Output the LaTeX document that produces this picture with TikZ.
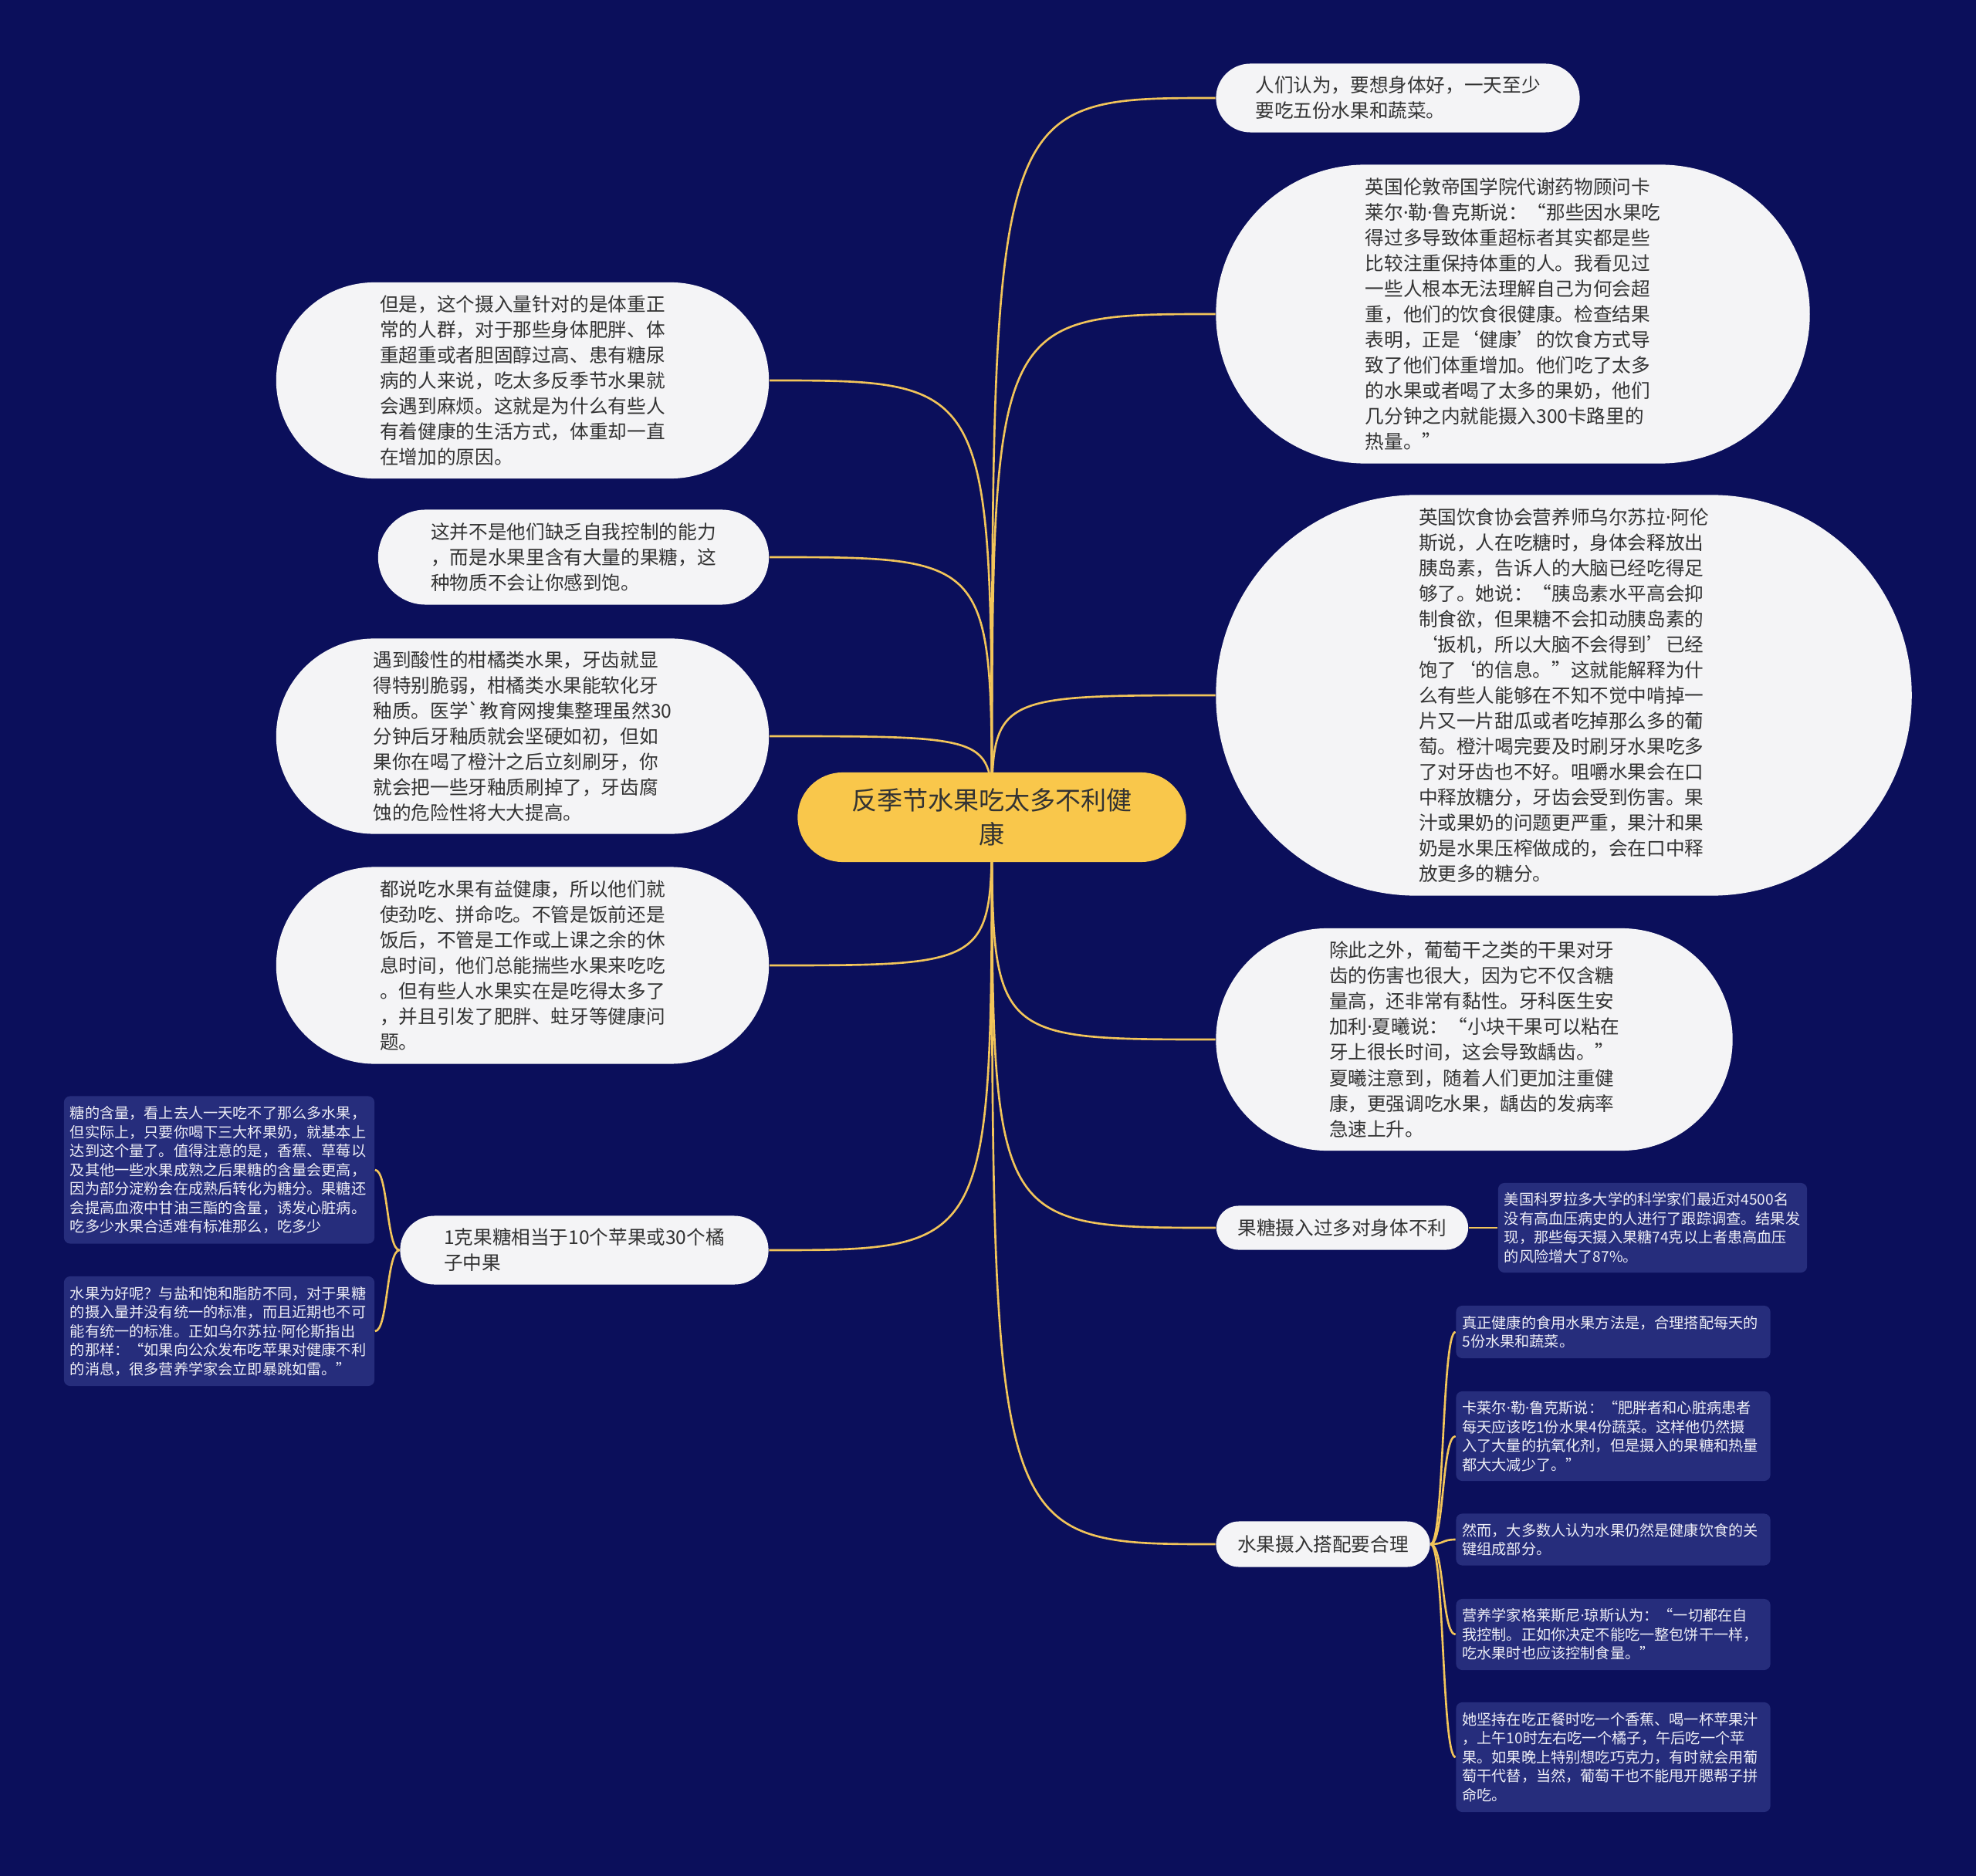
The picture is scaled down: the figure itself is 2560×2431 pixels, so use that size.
\documentclass[tikz,border=0pt]{standalone}
\usepackage{fontspec}
\setmainfont{Noto Sans CJK SC}
\newfontfamily\dotfont{Noto Sans}
\newcommand\md{{\dotfont ·}}
\usetikzlibrary{shapes.misc, backgrounds}
\definecolor{bgnavy}{HTML}{0B0F5B}
\definecolor{bubblewhite}{HTML}{F4F4F6}
\definecolor{rootgold}{HTML}{F9C74B}
\definecolor{linkgold}{HTML}{F2C55A}
\definecolor{leafblue}{HTML}{262D7C}
\definecolor{leaftext}{HTML}{EEEEF6}
\definecolor{inktext}{HTML}{333333}
\tikzset{
    bubble/.style={
        rounded rectangle, fill=bubblewhite, text=inktext,
        align=left, inner sep=0pt,
        font=\fontsize{7pt}{9.4pt}\selectfont
    },
    rootbox/.style={
        rounded rectangle, fill=rootgold, text=inktext,
        align=center, inner sep=0pt,
        font=\fontsize{9.4pt}{12.5pt}\selectfont
    },
    leaf/.style={
        rectangle, rounded corners=0.08cm, fill=leafblue, text=leaftext,
        align=left, inner xsep=0.08cm, inner ysep=0.1cm,
        font=\fontsize{5.45pt}{6.97pt}\selectfont
    },
    link/.style={draw=linkgold, line width=0.75pt}
}

\begin{document}
\begin{tikzpicture}[x=0.01cm, y=-0.01cm]
\useasboundingbox (0,0) rectangle (2560,2431);

% ── Root ─────────────────────────────────────────────────────────────────────
\node[rootbox, minimum width=5.03cm, minimum height=1.16cm] (root) at (1285,1059)
    {反季节水果吃太多不利健\\康};

% ── Right side ───────────────────────────────────────────────────────────────
\node[bubble, minimum width=4.71cm, minimum height=0.89cm] (fiveday) at (1811,127)
    {人们认为，要想身体好，一天至少\\要吃五份水果和蔬菜。};
\node[bubble, minimum width=7.69cm, minimum height=3.87cm] (calorie) at (1960,407)
    {英国伦敦帝国学院代谢药物顾问卡\\莱尔\md 勒\md 鲁克斯说：“那些因水果吃\\得过多导致体重超标者其实都是些\\比较注重保持体重的人。我看见过\\一些人根本无法理解自己为何会超\\重，他们的饮食很健康。检查结果\\表明，正是‘健康’的饮食方式导\\致了他们体重增加。他们吃了太多\\的水果或者喝了太多的果奶，他们\\几分钟之内就能摄入300卡路里的\\热量。”};
\node[bubble, minimum width=9.01cm, minimum height=5.19cm] (insulin) at (2026,901)
    {英国饮食协会营养师乌尔苏拉\md 阿伦\\斯说，人在吃糖时，身体会释放出\\胰岛素，告诉人的大脑已经吃得足\\够了。她说：“胰岛素水平高会抑\\制食欲，但果糖不会扣动胰岛素的\\‘扳机，所以大脑不会得到’已经\\饱了‘的信息。”这就能解释为什\\么有些人能够在不知不觉中啃掉一\\片又一片甜瓜或者吃掉那么多的葡\\萄。橙汁喝完要及时刷牙水果吃多\\了对牙齿也不好。咀嚼水果会在口\\中释放糖分，牙齿会受到伤害。果\\汁或果奶的问题更严重，果汁和果\\奶是水果压榨做成的，会在口中释\\放更多的糖分。};
\node[bubble, minimum width=6.69cm, minimum height=2.88cm] (raisin) at (1910,1347)
    {除此之外，葡萄干之类的干果对牙\\齿的伤害也很大，因为它不仅含糖\\量高，还非常有黏性。牙科医生安\\加利\md 夏曦说：“小块干果可以粘在\\牙上很长时间，这会导致龋齿。”\\夏曦注意到，随着人们更加注重健\\康，更强调吃水果，龋齿的发病率\\急速上升。};
\node[bubble, minimum width=3.26cm, minimum height=0.57cm] (harm) at (1739,1591)
    {果糖摄入过多对身体不利};
\node[leaf, text width=3.84cm, minimum height=1.16cm] (study) at (2141,1591)
    {美国科罗拉多大学的科学家们最近对4500名\\没有高血压病史的人进行了跟踪调查。结果发\\现，那些每天摄入果糖74克以上者患高血压\\的风险增大了87\%。};
\node[bubble, minimum width=2.77cm, minimum height=0.59cm] (balance) at (1714,2001)
    {水果摄入搭配要合理};
\node[leaf, text width=3.91cm, minimum height=0.68cm] (daily) at (2090,1726)
    {真正健康的食用水果方法是，合理搭配每天的\\5份水果和蔬菜。};
\node[leaf, text width=3.91cm, minimum height=1.16cm] (lukecut) at (2090,1861)
    {卡莱尔\md 勒\md 鲁克斯说：“肥胖者和心脏病患者\\每天应该吃1份水果4份蔬菜。这样他仍然摄\\入了大量的抗氧化剂，但是摄入的果糖和热量\\都大大减少了。”};
\node[leaf, text width=3.91cm, minimum height=0.67cm] (keyfood) at (2090,1995)
    {然而，大多数人认为水果仍然是健康饮食的关\\键组成部分。};
\node[leaf, text width=3.91cm, minimum height=0.92cm] (jones) at (2090,2118)
    {营养学家格莱斯尼\md 琼斯认为：“一切都在自\\我控制。正如你决定不能吃一整包饼干一样，\\吃水果时也应该控制食量。”};
\node[leaf, text width=3.91cm, minimum height=1.42cm] (banana) at (2090,2277)
    {她坚持在吃正餐时吃一个香蕉、喝一杯苹果汁\\，上午10时左右吃一个橘子，午后吃一个苹\\果。如果晚上特别想吃巧克力，有时就会用葡\\萄干代替，当然，葡萄干也不能甩开腮帮子拼\\命吃。};

% ── Left side ────────────────────────────────────────────────────────────────
\node[bubble, minimum width=6.38cm, minimum height=2.54cm] (weight) at (677,493)
    {但是，这个摄入量针对的是体重正\\常的人群，对于那些身体肥胖、体\\重超重或者胆固醇过高、患有糖尿\\病的人来说，吃太多反季节水果就\\会遇到麻烦。这就是为什么有些人\\有着健康的生活方式，体重却一直\\在增加的原因。};
\node[bubble, minimum width=5.06cm, minimum height=1.23cm] (notfull) at (743,722)
    {这并不是他们缺乏自我控制的能力\\，而是水果里含有大量的果糖，这\\种物质不会让你感到饱。};
\node[bubble, minimum width=6.38cm, minimum height=2.53cm] (citrus) at (677,954)
    {遇到酸性的柑橘类水果，牙齿就显\\得特别脆弱，柑橘类水果能软化牙\\釉质。医学\textasciigrave 教育网搜集整理虽然30\\分钟后牙釉质就会坚硬如初，但如\\果你在喝了橙汁之后立刻刷牙，你\\就会把一些牙釉质刷掉了，牙齿腐\\蚀的危险性将大大提高。};
\node[bubble, minimum width=6.38cm, minimum height=2.55cm] (overeat) at (677,1251)
    {都说吃水果有益健康，所以他们就\\使劲吃、拼命吃。不管是饭前还是\\饭后，不管是工作或上课之余的休\\息时间，他们总能揣些水果来吃吃\\。但有些人水果实在是吃得太多了\\，并且引发了肥胖、蛀牙等健康问\\题。};
\node[bubble, minimum width=4.77cm, minimum height=0.89cm] (gram) at (757,1620)
    {1克果糖相当于10个苹果或30个橘\\子中果};
\node[leaf, text width=3.86cm, minimum height=1.91cm] (content) at (284,1516)
    {糖的含量，看上去人一天吃不了那么多水果，\\但实际上，只要你喝下三大杯果奶，就基本上\\达到这个量了。值得注意的是，香蕉、草莓以\\及其他一些水果成熟之后果糖的含量会更高，\\因为部分淀粉会在成熟后转化为糖分。果糖还\\会提高血液中甘油三酯的含量，诱发心脏病。\\吃多少水果合适难有标准那么，吃多少};
\node[leaf, text width=3.86cm, minimum height=1.42cm] (standard) at (284,1725)
    {水果为好呢？与盐和饱和脂肪不同，对于果糖\\的摄入量并没有统一的标准，而且近期也不可\\能有统一的标准。正如乌尔苏拉\md 阿伦斯指出\\的那样：“如果向公众发布吃苹果对健康不利\\的消息，很多营养学家会立即暴跳如雷。”};

% ── Links (behind the nodes) ─────────────────────────────────────────────────
\begin{scope}[on background layer]
\fill[bgnavy] (0,0) rectangle (2560,2431);

% root -> right
\draw[link] (root.center) .. controls (root.center |- fiveday.west) .. (fiveday.west);
\draw[link] (root.center) .. controls (root.center |- calorie.west) .. (calorie.west);
\draw[link] (root.center) .. controls (root.center |- insulin.west) .. (insulin.west);
\draw[link] (root.center) .. controls (root.center |- raisin.west) .. (raisin.west);
\draw[link] (root.center) .. controls (root.center |- harm.west) .. (harm.west);
\draw[link] (root.center) .. controls (root.center |- balance.west) .. (balance.west);

% root -> left
\draw[link] (root.center) .. controls (root.center |- weight.east) .. (weight.east);
\draw[link] (root.center) .. controls (root.center |- notfull.east) .. (notfull.east);
\draw[link] (root.center) .. controls (root.center |- citrus.east) .. (citrus.east);
\draw[link] (root.center) .. controls (root.center |- overeat.east) .. (overeat.east);
\draw[link] (root.center) .. controls (root.center |- gram.east) .. (gram.east);

% leaves
\draw[link] (harm.east) -- (study.west);
\draw[link] (balance.east) .. controls +(18,0) and +(-18,0) .. (daily.west);
\draw[link] (balance.east) .. controls +(18,0) and +(-18,0) .. (lukecut.west);
\draw[link] (balance.east) .. controls +(18,0) and +(-18,0) .. (keyfood.west);
\draw[link] (balance.east) .. controls +(18,0) and +(-18,0) .. (jones.west);
\draw[link] (balance.east) .. controls +(18,0) and +(-18,0) .. (banana.west);
\draw[link] (gram.west) .. controls +(-17,0) and +(17,0) .. (content.east);
\draw[link] (gram.west) .. controls +(-17,0) and +(17,0) .. (standard.east);
\end{scope}

\end{tikzpicture}
\end{document}
